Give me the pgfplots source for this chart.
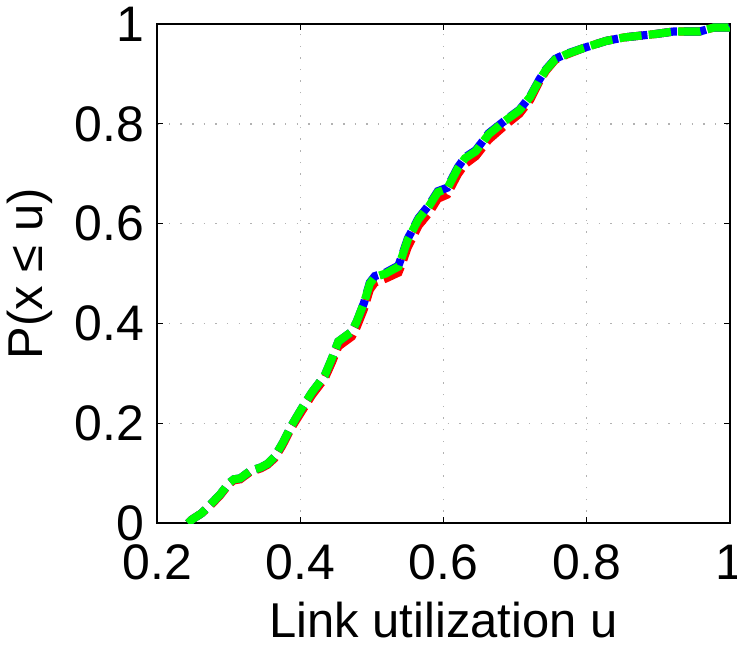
\documentclass[border=0pt]{standalone}
\usepackage{pgfplots}
\pgfplotsset{compat=1.18}
\usepackage{fontspec}
\setmainfont{Liberation Sans}

\pgfplotstableread{
x y
0.243 0.000
0.248 0.007
0.262 0.020
0.274 0.037
0.288 0.058
0.300 0.080
0.307 0.088
0.316 0.090
0.330 0.105
0.345 0.112
0.354 0.119
0.364 0.133
0.375 0.160
0.387 0.194
0.401 0.228
0.416 0.262
0.434 0.296
0.444 0.330
0.453 0.364
0.472 0.384
0.479 0.405
0.489 0.442
0.497 0.480
0.504 0.493
0.519 0.500
0.537 0.514
0.542 0.534
0.550 0.568
0.565 0.609
0.580 0.636
0.592 0.663
0.605 0.670
0.620 0.711
0.630 0.731
0.645 0.745
0.663 0.779
0.686 0.806
0.706 0.827
0.721 0.854
0.734 0.888
0.743 0.908
0.756 0.929
0.771 0.939
0.796 0.952
0.827 0.966
0.852 0.973
0.897 0.980
0.922 0.985
0.958 0.985
0.978 0.993
0.998 0.993
1.000 0.995
}\greendata

\pgfplotstableread{
x y
0.243 0.000
0.248 0.007
0.262 0.020
0.274 0.035
0.288 0.056
0.300 0.078
0.307 0.086
0.316 0.088
0.330 0.103
0.345 0.110
0.354 0.117
0.364 0.130
0.375 0.156
0.387 0.190
0.401 0.222
0.416 0.256
0.434 0.290
0.444 0.322
0.453 0.354
0.472 0.374
0.479 0.394
0.489 0.430
0.497 0.468
0.504 0.482
0.519 0.490
0.537 0.502
0.542 0.520
0.550 0.553
0.565 0.596
0.580 0.622
0.592 0.650
0.605 0.658
0.620 0.699
0.630 0.719
0.645 0.735
0.663 0.768
0.686 0.797
0.706 0.820
0.721 0.848
0.734 0.885
0.743 0.906
0.756 0.928
0.771 0.938
0.796 0.952
0.827 0.966
0.852 0.973
0.897 0.980
0.922 0.985
0.958 0.985
0.978 0.993
0.998 0.993
1.000 0.995
}\reddata

% blue in two pieces so its dashes fall out of step with green in the upper part
\pgfplotstableread{
x y
0.243 0.000
0.248 0.007
0.262 0.020
0.274 0.037
0.288 0.058
0.300 0.080
0.307 0.088
0.316 0.090
0.330 0.105
0.345 0.112
0.354 0.119
0.364 0.133
0.375 0.160
0.387 0.194
0.401 0.228
0.416 0.262
0.434 0.296
0.444 0.330
0.453 0.364
0.472 0.384
0.479 0.405
}\bluelow

\pgfplotstableread{
x y
0.479 0.405
0.489 0.442
0.497 0.482
0.504 0.495
0.519 0.502
0.537 0.516
0.542 0.536
0.550 0.570
0.565 0.611
0.580 0.638
0.592 0.665
0.605 0.672
0.620 0.713
0.630 0.733
0.645 0.747
0.663 0.781
0.686 0.807
0.706 0.828
0.721 0.855
0.734 0.889
0.743 0.909
0.756 0.930
0.771 0.940
0.796 0.952
0.827 0.966
0.852 0.973
0.897 0.980
0.922 0.985
0.958 0.985
0.978 0.993
0.998 0.993
1.000 0.995
}\bluehigh

\begin{document}
\begin{tikzpicture}[trim right={([xshift=3.5pt]current axis.south east)}]
\begin{axis}[
  width=281pt, height=245pt,
  scale only axis,
  xmin=0.2, xmax=1, ymin=0, ymax=1,
  xtick={0.2,0.4,0.6,0.8,1},
  ytick={0,0.2,0.4,0.6,0.8,1},
  tick align=inside,
  major tick length=3pt,
  tick style={black, line width=0.6pt},
  axis line style={black, line width=0.8pt},
  grid=major,
  major grid style={gray!60, line width=0.7pt, dash pattern=on 0.7pt off 5pt},
  font=\fontsize{24}{29}\selectfont,
  /pgf/number format/assume math mode=true,
  ticklabel style={font=\fontsize{24.5}{29}\selectfont},
  yticklabel style={xshift=-3pt},
  xticklabel style={yshift=-7pt},
  xlabel={Link utilization u},
  ylabel={P(x ≤ u)},
  xlabel style={yshift=-4pt},
  ylabel style={yshift=4pt},
  every axis plot/.append style={line width=4pt, dash pattern=on 11pt off 3.5pt},
  clip=true,
]
\addplot[red, no marks] table {\reddata};
\addplot[blue, no marks] table {\bluelow};
\addplot[blue, no marks] table {\bluehigh};
\addplot[green, no marks] table {\greendata};
\end{axis}
\end{tikzpicture}
\end{document}
